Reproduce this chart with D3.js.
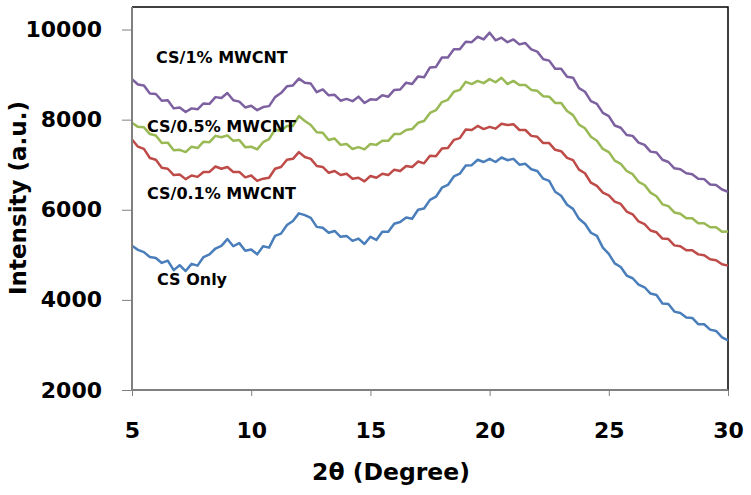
<!DOCTYPE html>
<html><head><meta charset="utf-8">
<script src="https://cdn.jsdelivr.net/npm/d3@7"></script>
<style>html,body{margin:0;padding:0;background:#fff;}svg{display:block;}</style>
</head><body>
<svg id="chart" width="751" height="495"></svg>
<script>
// 2θ sampling grid (degrees)
const twoTheta = d3.range(0, 101).map(i => 5 + i * 0.25);

const csOnly = [5200,5110,5060,4950, 4930,4820,4870,4660, 4770,4640,4800,4760, 4950,5010,5140,5200,
  5350,5190,5260,5090, 5120,5010,5190,5160, 5420,5470,5660,5750, 5920,5880,5820,5620,
  5600,5490,5530,5400, 5420,5310,5360,5240, 5400,5330,5510,5510, 5690,5730,5830,5800,
  6000,6030,6220,6290, 6490,6550,6740,6800, 6980,6990,7110,7060, 7130,7060,7160,7100,
  7130,7000,7020,6900, 6860,6690,6640,6400, 6310,6110,6020,5800, 5690,5490,5420,5160,
  5020,4810,4730,4540, 4480,4340,4280,4140, 4110,3920,3910,3740, 3710,3610,3600,3460,
  3460,3340,3310,3170, 3100];
const cs01 = [7560,7400,7350,7150, 7110,6930,6910,6770, 6780,6680,6760,6730, 6840,6840,6960,6910,
  6950,6840,6840,6720, 6760,6640,6690,6710, 6910,6950,7110,7130, 7280,7170,7130,6970,
  6950,6820,6860,6770, 6800,6690,6710,6630, 6750,6710,6800,6770, 6890,6860,6970,6950,
  7070,7030,7200,7190, 7360,7370,7550,7590, 7780,7770,7860,7790, 7840,7800,7910,7880,
  7900,7770,7770,7640, 7620,7480,7480,7330, 7300,7150,7100,6890, 6810,6600,6530,6380,
  6320,6180,6130,5960, 5900,5740,5680,5540, 5500,5360,5350,5210, 5190,5100,5100,5010,
  4990,4900,4880,4790, 4760];
const cs05 = [7930,7840,7830,7680, 7650,7480,7490,7320, 7330,7280,7400,7370, 7510,7500,7640,7610,
  7650,7530,7550,7390, 7400,7340,7500,7570, 7780,7750,7860,7860, 8080,7970,7880,7720,
  7710,7550,7580,7440, 7460,7350,7390,7340, 7460,7440,7530,7530, 7680,7680,7770,7790,
  7930,7970,8150,8210, 8390,8440,8620,8660, 8840,8790,8860,8810, 8900,8830,8930,8790,
  8860,8770,8770,8660, 8640,8520,8510,8370, 8370,8190,8100,7890, 7810,7620,7530,7350,
  7280,7090,7020,6860, 6790,6620,6550,6380, 6300,6120,6080,5940, 5910,5810,5810,5700,
  5700,5610,5610,5510, 5520];
const cs1 = [8900,8780,8760,8580, 8570,8420,8430,8250, 8270,8170,8250,8230, 8360,8350,8500,8480,
  8590,8430,8400,8270, 8310,8210,8280,8300, 8500,8590,8740,8760, 8910,8820,8800,8610,
  8670,8540,8550,8420, 8460,8410,8510,8370, 8450,8440,8540,8510, 8660,8670,8820,8790,
  8960,8940,9160,9170, 9380,9380,9560,9560, 9730,9720,9840,9780, 9930,9760,9820,9720,
  9780,9670,9700,9560, 9510,9340,9310,9130, 9130,8950,8930,8700, 8620,8410,8350,8150,
  8080,7870,7820,7660, 7640,7490,7440,7290, 7270,7110,7060,6920, 6900,6810,6790,6690,
  6680,6560,6550,6450, 6400];

const seriesNames = ["CS Only", "CS/0.1% MWCNT", "CS/0.5% MWCNT", "CS/1% MWCNT"];
const seriesColors = ["#4a7ebb", "#be4b48", "#98b954", "#7d60a0"];
const seriesValues = [csOnly, cs01, cs05, cs1];
const xTicks = [5, 10, 15, 20, 25, 30];
const yTicks = [2000, 4000, 6000, 8000, 10000];
const labelPos = [[157, 285], [147, 199], [147, 132], [156, 63]]; // label anchor (px)

const svg = d3.select("#chart");
const L = 132, R = 728, T = 7, B = 390;
const x = d3.scaleLinear().domain([5, 30]).range([L, R]);
const y = d3.scaleLinear().domain([2000, 10500]).range([B, T]);
const font = "'DejaVu Sans', sans-serif";

// frame top/right
svg.append("path").attr("d", `M${L},${T}H${R}V${B}`).attr("fill", "none")
  .attr("stroke", "#000").attr("stroke-width", 1.5);

// lines
const line = d3.line().x((d, i) => x(twoTheta[i])).y(d => y(d));
seriesValues.forEach((vals, k) => {
  svg.append("path").datum(vals).attr("d", line).attr("fill", "none")
    .attr("stroke", seriesColors[k]).attr("stroke-width", 2.5)
    .attr("stroke-linejoin", "round");
});

// axes
const yAxis = svg.append("g").attr("transform", `translate(${L},0)`)
  .call(d3.axisLeft(y).tickValues(yTicks).tickSize(10).tickPadding(20).tickFormat(d3.format("d")));
const xAxis = svg.append("g").attr("transform", `translate(0,${B})`)
  .call(d3.axisBottom(x).tickValues(xTicks).tickSize(6).tickPadding(26).tickFormat(d3.format("d")));
[yAxis, xAxis].forEach(g => {
  g.select(".domain").attr("stroke", "#808080").attr("stroke-width", 2);
  g.selectAll(".tick line").attr("stroke", "#808080").attr("stroke-width", 1);
  g.selectAll(".tick text").attr("fill", "#000").style("font-family", font)
    .style("font-weight", "bold").style("font-size", "22px");
});
yAxis.select(".domain").attr("d", `M0,${T}V${B}`);
xAxis.select(".domain").attr("d", `M${L},0H${R}`);

// axis titles
svg.append("text").attr("x", 391).attr("y", 480).attr("text-anchor", "middle")
  .style("font-family", font).style("font-weight", "bold").style("font-size", "23.5px")
  .text("2θ (Degree)");
svg.append("text").attr("transform", "translate(26,198) rotate(-90)").attr("text-anchor", "middle")
  .style("font-family", font).style("font-weight", "bold").style("font-size", "23px")
  .text("Intensity (a.u.)");

// series labels
seriesNames.forEach((n, k) => {
  svg.append("text").attr("x", labelPos[k][0]).attr("y", labelPos[k][1])
    .style("font-family", font).style("font-weight", "bold").style("font-size", "16px")
    .text(n);
});
</script>
</body></html>
